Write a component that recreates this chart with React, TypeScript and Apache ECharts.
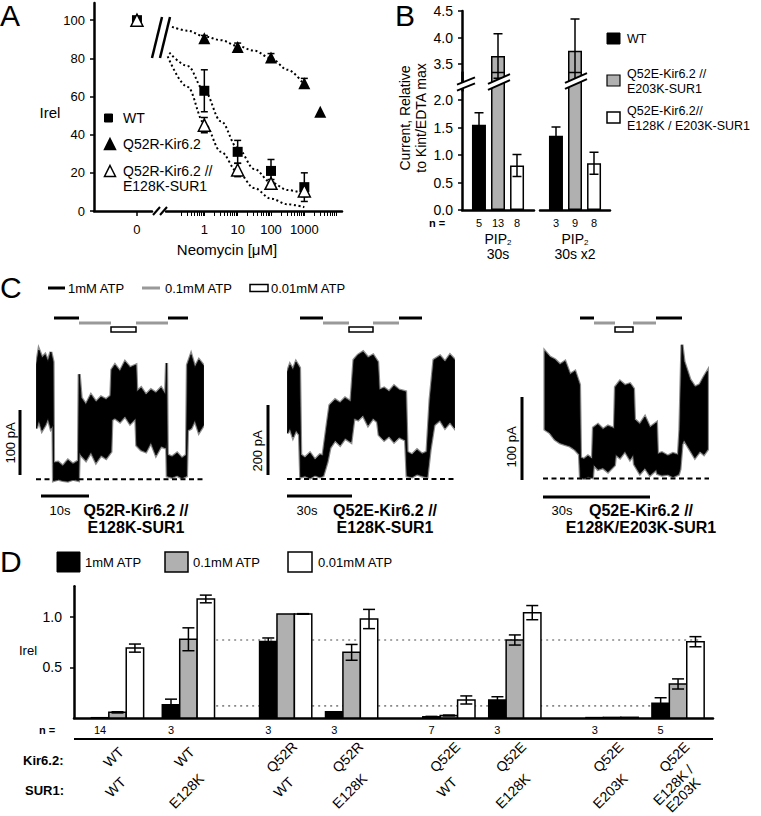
import React, { useEffect, useRef } from 'react';
import * as echarts from 'echarts';

const FONT = '"Liberation Sans", Arial, Helvetica, sans-serif';
const GREY = '#b0b0b0';

// ---------------- Panel A: neomycin inhibition ----------------
const neoConc = [0, 1, 10, 100, 1000];
const irelWT = [100, 63, 31, 21, 12.5];
const irelWTErr = [0, 11, 6, 6, 7.5];
const q52rConc = [0, 1, 10, 100, 1000, 3000];
const irelQ52R = [100, 90.5, 86, 80.5, 67, 52];
const irelQ52RErr = [0, 1.5, 2, 2, 2.5, 0];
const irelQ52RE128K = [100, 45, 21.5, 14.5, 10.5];
const irelQ52RE128KErr = [0, 4, 3.5, 2, 3];
// fitted curves: [log10(conc), Irel]
const fitQ52R = [[-0.97, 96.5], [-0.5, 94.5], [0, 91.5], [0.5, 89.5], [1, 86.5], [1.5, 84], [2, 80], [2.5, 74], [3, 66]];
const fitWT = [[-1.05, 83], [-0.5, 76], [0, 63], [0.5, 47], [1, 33], [1.5, 22], [2, 15], [2.5, 11], [3, 9]];
const fitQ52RE128K = [[-1.1, 81], [-0.5, 65], [0, 46], [0.5, 31], [1, 20.5], [1.5, 12], [2, 6.5], [2.5, 3.5], [3, 2]];
const aTickLabels = [0, 20, 40, 60, 80, 100];

// ---------------- Panel B: PIP2 activation ----------------
const pipGroups = ['PIP2 30s', 'PIP2 30s x2'];
const pipWT = [1.55, 1.35];
const pipWTErr = [0.22, 0.16];
const pipE203K = [3.65, 3.75];
const pipE203KErr = [0.42, 0.6];
const pipDouble = [0.81, 0.85];
const pipDoubleErr = [0.2, 0.2];
const pipN = [[5, 13, 8], [3, 9, 8]];

// ---------------- Panel C: current traces (envelopes, pA vs s) ----------------
const t1 = [0.1, 0.6, 1.25, 1.9, 2.5, 3.1, 3.55, 3.65, 4.6, 5.6, 6.65, 7.7, 8.85, 9.0, 9.4, 10.4, 11.45, 12.5, 13.55, 14.6, 15.6, 15.8, 16.45, 17.5, 18.55, 19.6, 20.8, 21.0, 21.9, 22.9, 23.95, 25.0, 26.05, 27.0, 27.2, 27.35, 28.35, 29.4, 30.4, 31.35, 31.55, 32.3, 33.1, 33.95, 34.9];
const hi1 = [175, 198, 186, 191, 180, 195, 180, 25, 26, 20, 29, 23, 28, 161, 125, 114, 129, 118, 126, 122, 128, 168, 175, 165, 180, 171, 175, 134, 140, 129, 137, 132, 140, 129, 178, 37, 34, 40, 32, 37, 175, 191, 171, 183, 174];
const lo1 = [78, 91, 75, 83, 94, 78, 83, -2, 0, -2, -3, 0, -2, 42, 37, 29, 42, 26, 37, 32, 42, 91, 94, 88, 97, 85, 94, 52, 45, 42, 57, 37, 51, 48, 60, 5, 3, 6, 2, 5, 75, 78, 91, 72, 83];
const t2 = [0.23, 1.38, 2.77, 4.15, 5.77, 6.32, 8.31, 10.6, 12.9, 15.2, 16.6, 18.5, 19.8, 22.2, 24.5, 26.8, 29.5, 30.9, 32.8, 35.1, 37.4, 39.7, 41.8, 42.5, 44.8, 47.1, 49.4, 51.7, 54.7, 55.4, 57.7, 60.0, 62.3, 64.6, 66.0, 67.8, 70.6, 72.9, 75.2, 77.3];
const hi2 = [306, 326, 311, 334, 317, 69, 60, 74, 54, 69, 66, 154, 211, 226, 217, 231, 220, 340, 354, 363, 346, 354, 334, 254, 260, 249, 266, 254, 249, 77, 69, 83, 71, 77, 226, 340, 351, 334, 354, 340];
const lo2 = [131, 146, 120, 140, 126, 6, 9, 3, 11, 6, 9, 49, 89, 111, 97, 117, 106, 174, 169, 183, 154, 174, 163, 126, 111, 123, 106, 120, 111, 9, 6, 14, 9, 6, 83, 154, 169, 146, 163, 146];
const t3 = [0.56, 1.97, 3.37, 4.78, 6.19, 7.59, 9.0, 10.26, 10.55, 11.53, 12.65, 13.92, 14.2, 15.47, 16.87, 18.28, 20.1, 20.39, 21.65, 23.06, 24.46, 25.45, 25.73, 27.28, 28.68, 30.09, 31.92, 32.2, 33.46, 35.15, 36.56, 38.1, 38.52, 39.09, 39.65, 41.34, 42.74, 44.15, 45.27, 46.26];
const hi3 = [153, 146, 143, 137, 141, 125, 129, 113, 25, 23, 27, 23, 61, 65, 59, 63, 60, 110, 117, 112, 114, 108, 71, 65, 74, 61, 67, 29, 31, 27, 30, 28, 59, 161, 141, 119, 110, 113, 122, 129];
const lo3 = [59, 55, 47, 43, 41, 39, 35, 29, 1, 0, 2, 1, 17, 11, 13, 8, 16, 29, 25, 33, 23, 29, 17, 6, 13, 4, 11, 6, 4, 5, 2, 5, 11, 41, 47, 35, 25, 33, 29, 35];

// ---------------- Panel D: ATP sensitivity ----------------
const dKir = ['WT', 'WT', 'Q52R', 'Q52R', 'Q52E', 'Q52E', 'Q52E', 'Q52E'];
const dSur = ['WT', 'E128K', 'WT', 'E128K', 'WT', 'E128K', 'E203K', 'E128K /\nE203K'];
const dN = [14, 3, 3, 3, 7, 3, 3, 5];
const d1mM = [0.003, 0.13, 0.755, 0.062, 0.012, 0.178, 0.004, 0.145];
const d1mMErr = [0, 0.056, 0.035, 0, 0.004, 0.032, 0, 0.055];
const d01mM = [0.056, 0.777, 1.027, 0.648, 0.025, 0.77, 0.006, 0.336];
const d01mMErr = [0.006, 0.113, 0, 0.078, 0.004, 0.05, 0, 0.05];
const d001mM = [0.69, 1.175, 1.027, 0.977, 0.178, 1.04, 0.007, 0.753];
const d001mMErr = [0.04, 0.038, 0.003, 0.095, 0.04, 0.07, 0, 0.05];
const dRefLevels = [0.77, 0.12];
// layout: group slots along the x axis
const dSlots = [0, 2.15, 5.1, 7.1, 10.05, 12.05, 15, 17];

// ---------------- helpers ----------------
function T(x: number, y: number, text: string, o: any = {}) {
  const style: any = {
    text, fill: '#000', fontSize: o.size || 13, fontFamily: FONT,
    fontWeight: o.bold ? 'bold' : 'normal',
    align: o.align || 'left', verticalAlign: o.va || 'middle',
    textAlign: o.align || 'left', textVerticalAlign: o.va || 'middle',
  };
  if (o.lh) style.lineHeight = o.lh;
  if (o.rich) style.rich = o.rich;
  return { type: 'text', x, y, z: 120, rotation: o.rot || 0, originX: 0, originY: 0, style };
}
function L(x1: number, y1: number, x2: number, y2: number, w = 2.5, c = '#000') {
  return { type: 'line', z: 110, shape: { x1, y1, x2, y2 }, style: { stroke: c, lineWidth: w } };
}
function R(x: number, y: number, w: number, h: number, fill: string, stroke = '#000', lw = 1.5) {
  return { type: 'rect', z: 110, shape: { x, y, width: w, height: h }, style: { fill, stroke, lineWidth: lw } };
}
function tri(cx: number, cy: number, s: number, fill: string) {
  return {
    type: 'polygon', z: 110,
    shape: { points: [[cx, cy - s / 2], [cx + s / 2, cy + s / 2], [cx - s / 2, cy + s / 2]] },
    style: { fill, stroke: '#000', lineWidth: 1.5 },
  };
}
function breakMark(xc: number, yc: number, half: number, slope: number, gap: number) {
  const yAt = (x: number, off: number) => yc + off - slope * (x - xc);
  const xa = xc - half, xb = xc + half;
  return [
    { type: 'polygon', z: 105, shape: { points: [[xa, yAt(xa, gap / 2)], [xb, yAt(xb, gap / 2)], [xb, yAt(xb, -gap / 2)], [xa, yAt(xa, -gap / 2)]] }, style: { fill: '#fff' } },
    { type: 'line', z: 106, shape: { x1: xa, y1: yAt(xa, gap / 2), x2: xb, y2: yAt(xb, gap / 2) }, style: { stroke: '#000', lineWidth: 2 } },
    { type: 'line', z: 106, shape: { x1: xa, y1: yAt(xa, -gap / 2), x2: xb, y2: yAt(xb, -gap / 2) }, style: { stroke: '#000', lineWidth: 2 } },
  ];
}
function errItem(api: any, x: number, lo: number, hi: number, dx: number, cap: number) {
  const a = api.coord([x, lo]);
  const b = api.coord([x, hi]);
  const cx = a[0] + dx;
  const st = { stroke: '#000', lineWidth: 1.5 };
  return [
    { type: 'line', shape: { x1: cx, y1: a[1], x2: cx, y2: b[1] }, style: st },
    { type: 'line', shape: { x1: cx - cap, y1: a[1], x2: cx + cap, y2: a[1] }, style: st },
    { type: 'line', shape: { x1: cx - cap, y1: b[1], x2: cx + cap, y2: b[1] }, style: st },
  ];
}

const AX = { color: '#000', width: 2.5 };
const LBL = (size: number, margin: number) => ({ color: '#000', fontSize: size, fontFamily: FONT, margin });

function buildOption() {
  const logTicks: number[] = [];
  for (let n = -1; n <= 3; n++) for (let k = 1; k <= 9; k++) if (!(n === -1 && k === 1)) logTicks.push(Math.log10(k * Math.pow(10, n)));

  const grid = [
    { left: 94, top: 3, width: 58, height: 208 },
    { left: 166, top: 3, width: 176, height: 208 },
    { left: 462, top: 11, width: 72, height: 79.5 },
    { left: 540, top: 11, width: 70, height: 79.5 },
    { left: 462, top: 72.5, width: 72, height: 137.5 },
    { left: 540, top: 72.5, width: 70, height: 137.5 },
    { left: 36, top: 339, width: 168, height: 150 },
    { left: 287, top: 339, width: 168, height: 150.5 },
    { left: 543, top: 339, width: 166, height: 149.4 },
    { left: 74, top: 586.3, width: 639, height: 131.7 },
  ].map((g) => ({ ...g, outerBoundsMode: 'none', containLabel: false }));

  const hidden = { show: false };
  const xLine = { show: true, onZero: false, lineStyle: AX };
  const yLine = { show: true, onZero: false, lineStyle: AX };
  const xAxis: any[] = [
    { gridIndex: 0, type: 'value', min: -1, max: 0.35, splitLine: hidden, axisLine: xLine,
      axisTick: { show: true, customValues: [0], length: 5, lineStyle: { color: '#000', width: 1.5 } },
      axisLabel: { ...LBL(13, 12), customValues: [0], formatter: (v: number) => (Math.abs(v) < 1e-9 ? '0' : '') } },
    { gridIndex: 1, type: 'value', min: -1.15, max: 4.13, splitLine: hidden, axisLine: xLine,
      axisTick: { show: true, customValues: logTicks, length: 5, lineStyle: { color: '#000', width: 1 } },
      axisLabel: { ...LBL(13, 12), customValues: [0, 1, 2, 3],
        formatter: (v: number) => (Math.abs(v - Math.round(v)) < 1e-6 && v >= 0 && v <= 3 ? String(Math.round(Math.pow(10, v))) : '') } },
    { gridIndex: 2, type: 'category', data: [pipGroups[0]], show: false },
    { gridIndex: 3, type: 'category', data: [pipGroups[1]], show: false },
    { gridIndex: 4, type: 'category', data: [pipGroups[0]], axisLine: xLine, axisTick: hidden, axisLabel: hidden },
    { gridIndex: 5, type: 'category', data: [pipGroups[1]], axisLine: xLine, axisTick: hidden, axisLabel: hidden },
    { gridIndex: 6, type: 'value', min: 0, max: 35, show: false },
    { gridIndex: 7, type: 'value', min: 0, max: 77.5, show: false },
    { gridIndex: 8, type: 'value', min: 0, max: 46.7, show: false },
    { gridIndex: 9, type: 'value', min: -1.32, max: 18.06, splitLine: hidden, axisLine: xLine, axisTick: hidden, axisLabel: hidden },
  ];
  const yAxis: any[] = [
    { gridIndex: 0, type: 'value', min: 0, max: 109, splitLine: hidden, axisLine: yLine,
      axisTick: { show: true, customValues: aTickLabels, length: 4, lineStyle: { color: '#000', width: 1.5 } },
      axisLabel: { ...LBL(13, 9), customValues: aTickLabels } },
    { gridIndex: 1, type: 'value', min: 0, max: 109, show: false },
    { gridIndex: 2, type: 'value', min: 3, max: 4.5, splitLine: hidden, axisLine: yLine,
      axisTick: { show: true, customValues: [3.5, 4, 4.5], length: 4, lineStyle: { color: '#000', width: 1.5 } },
      axisLabel: { ...LBL(14, 9), customValues: [3.5, 4, 4.5], formatter: (v: number) => v.toFixed(1) } },
    { gridIndex: 3, type: 'value', min: 3, max: 4.5, show: false },
    { gridIndex: 4, type: 'value', min: 0, max: 2.5, splitLine: hidden, axisLine: yLine,
      axisTick: { show: true, customValues: [0, 0.5, 1, 1.5, 2], length: 4, lineStyle: { color: '#000', width: 1.5 } },
      axisLabel: { ...LBL(14, 9), customValues: [0, 0.5, 1, 1.5, 2], formatter: (v: number) => v.toFixed(1) } },
    { gridIndex: 5, type: 'value', min: 0, max: 2.5, show: false },
    { gridIndex: 6, type: 'value', min: -15, max: 215, show: false },
    { gridIndex: 7, type: 'value', min: -30, max: 400, show: false },
    { gridIndex: 8, type: 'value', min: -12, max: 168, show: false },
    { gridIndex: 9, type: 'value', min: 0, max: 1.3, splitLine: hidden, axisLine: yLine,
      axisTick: { show: true, customValues: [0.5, 1], length: 4, lineStyle: { color: '#000', width: 1.5 } },
      axisLabel: { ...LBL(14, 12), customValues: [0.5, 1], formatter: (v: number) => v.toFixed(1) } },
  ];

  const series: any[] = [];

  // ---- Panel A ----
  const dotted = { color: '#000', width: 2, type: [2, 2.6] };
  [fitQ52R, fitWT, fitQ52RE128K].forEach((f) =>
    series.push({ type: 'line', xAxisIndex: 1, yAxisIndex: 1, data: f, smooth: 0.35, smoothMonotone: 'x', symbol: 'none', lineStyle: dotted, z: 2, silent: true }));
  const aErr = (conc: number[], m: number[], e: number[]) =>
    conc.map((c, i) => [c, m[i], e[i]]).filter((r) => r[0] > 0 && r[2] > 0).map((r) => [Math.log10(r[0]), r[1] - r[2], r[1] + r[2]]);
  [aErr(neoConc, irelWT, irelWTErr), aErr(q52rConc, irelQ52R, irelQ52RErr), aErr(neoConc, irelQ52RE128K, irelQ52RE128KErr)].forEach((d) =>
    series.push({ type: 'custom', xAxisIndex: 1, yAxisIndex: 1, z: 3, data: d, encode: { x: 0, y: [1, 2] },
      renderItem: (p: any, api: any) => ({ type: 'group', children: errItem(api, api.value(0), api.value(1), api.value(2), 0, 3.5) }) }));
  const aSets = [
    { conc: neoConc, m: irelWT, sym: 'rect', size: 10, style: { color: '#000', opacity: 1 } },
    { conc: q52rConc, m: irelQ52R, sym: 'triangle', size: 12, style: { color: '#000', opacity: 1 } },
    { conc: neoConc, m: irelQ52RE128K, sym: 'triangle', size: 12, style: { color: '#fff', borderColor: '#000', borderWidth: 1.5, opacity: 1 } },
  ];
  aSets.forEach((s) => {
    series.push({ type: 'scatter', xAxisIndex: 0, yAxisIndex: 0, z: 4, symbol: s.sym, symbolSize: s.size, itemStyle: s.style,
      data: s.conc.map((c, i) => [c, s.m[i]]).filter((r) => r[0] === 0) });
    series.push({ type: 'scatter', xAxisIndex: 1, yAxisIndex: 1, z: 4, symbol: s.sym, symbolSize: s.size, itemStyle: s.style,
      data: s.conc.map((c, i) => [c, s.m[i]]).filter((r) => r[0] > 0).map((r) => [Math.log10(r[0]), r[1]]) });
  });

  // ---- Panel B ----
  const bSets = [
    { v: pipWT, e: pipWTErr, color: '#000' },
    { v: pipE203K, e: pipE203KErr, color: GREY },
    { v: pipDouble, e: pipDoubleErr, color: '#fff' },
  ];
  [0, 1].forEach((g) => {
    [{ ax: 2 + g, lo: 3, hi: 4.5 }, { ax: 4 + g, lo: 0, hi: 2.5 }].forEach((pane) => {
      bSets.forEach((s) =>
        series.push({ type: 'bar', xAxisIndex: pane.ax, yAxisIndex: pane.ax, barWidth: 14, barGap: '36%', clip: true, z: 2,
          data: [s.v[g] > pane.lo ? s.v[g] : '-'],
          itemStyle: { color: s.color, borderColor: '#000', borderWidth: 1.5 } }));
      const errData = bSets.map((s, k) => [0, s.v[g] - s.e[g], s.v[g] + s.e[g], k])
        .filter((r) => (pane.lo > 0 ? r[2] > pane.lo : r[1] < pane.hi));
      series.push({ type: 'custom', xAxisIndex: pane.ax, yAxisIndex: pane.ax, clip: true, z: 3, data: errData,
        renderItem: (p: any, api: any) => ({ type: 'group', children: errItem(api, 0, api.value(1), api.value(2), (api.value(3) - 1) * 19, 4.5) }) });
    });
  });

  // ---- Panel C ----
  const traces = [
    { t: t1, lo: lo1, hi: hi1, ax: 6, tMax: 35 },
    { t: t2, lo: lo2, hi: hi2, ax: 7, tMax: 77.5 },
    { t: t3, lo: lo3, hi: hi3, ax: 8, tMax: 46.7 },
  ];
  traces.forEach((tr) => {
    const pts = tr.t.map((t, j) => [t, tr.lo[j], tr.hi[j]]);
    series.push({ type: 'custom', xAxisIndex: tr.ax, yAxisIndex: tr.ax, clip: true, silent: true, z: 2, data: pts,
      encode: { x: 0, y: [1, 2] },
      renderItem: (p: any, api: any) => {
        if (p.dataIndex !== 0) return null;
        const upper = pts.map((d) => api.coord([d[0], d[2]]));
        const lower = pts.map((d) => api.coord([d[0], d[1]])).reverse();
        const poly = upper.concat(lower);
        return { type: 'group', children: [
          { type: 'polygon', shape: { points: poly }, style: { fill: '#000', stroke: '#8c8c8c', lineWidth: 3.2, lineJoin: 'miter' } },
          { type: 'polygon', shape: { points: poly }, style: { fill: '#000', stroke: '#000', lineWidth: 0.8, lineJoin: 'miter' } },
        ] };
      } });
    series.push({ type: 'line', xAxisIndex: tr.ax, yAxisIndex: tr.ax, symbol: 'none', silent: true, z: 3,
      data: [[0, 0], [tr.tMax, 0]], lineStyle: { color: '#000', width: 2, type: [5, 3.5] } });
  });

  // ---- Panel D ----
  dRefLevels.forEach((lv) =>
    series.push({ type: 'line', xAxisIndex: 9, yAxisIndex: 9, symbol: 'none', silent: true, z: 1,
      data: [[1.9, lv], [17.73, lv]], lineStyle: { color: '#888', width: 1.6, type: [2, 4] } }));
  const dSets = [
    { v: d1mM, e: d1mMErr, color: '#000' },
    { v: d01mM, e: d01mMErr, color: GREY },
    { v: d001mM, e: d001mMErr, color: '#fff' },
  ];
  dSets.forEach((s, k) =>
    series.push({ type: 'custom', xAxisIndex: 9, yAxisIndex: 9, z: 3, encode: { x: 0, y: 1 },
      data: s.v.map((v, i) => [dSlots[i], v, s.e[i]]),
      renderItem: (p: any, api: any) => {
        const slot = api.value(0), v = api.value(1), e = api.value(2);
        const bw = api.size([1, 0])[0] * 0.528;
        const p0 = api.coord([slot, 0]);
        const p1 = api.coord([slot, v]);
        const cx = p0[0] + (k - 1) * bw;
        const children: any[] = [{ type: 'rect', shape: { x: cx - bw / 2, y: p1[1], width: bw, height: Math.max(p0[1] - p1[1], 0.3) },
          style: { fill: s.color, stroke: '#000', lineWidth: 1.5 } }];
        if (e > 0) children.push(...errItem(api, slot, v - e, v + e, (k - 1) * bw, 6));
        return { type: 'group', children };
      } }));

  // ---------------- graphic annotations ----------------
  const g: any[] = [];
  // A
  g.push(T(0, 15, 'A', { size: 30 }));
  g.push(T(50, 112, 'Irel', { size: 15, align: 'center' }));
  g.push(T(227, 249, 'Neomycin [\u03bcM]', { size: 15, align: 'center' }));
  g.push(R(104.5, 114, 8, 8, '#000', '#000', 1));
  g.push(T(123, 118, 'WT', { size: 14 }));
  g.push(tri(110, 144, 11, '#000'));
  g.push(T(123, 144, 'Q52R-Kir6.2', { size: 14 }));
  g.push(tri(110, 171, 11, '#fff'));
  g.push(T(123, 171, 'Q52R-Kir6.2 //', { size: 14 }));
  g.push(T(123, 186, 'E128K-SUR1', { size: 14 }));
  g.push(L(152, 58, 162, 17, 2.5), L(160, 58, 170, 17, 2.5));
  g.push(L(153, 215, 160, 207, 2), L(160, 215, 167, 207, 2));

  // B
  g.push(T(395, 15, 'B', { size: 30 }));
  g.push(T(413, 118, 'Current, Relative\nto Kint/EDTA max', { size: 14, align: 'center', rot: Math.PI / 2, lh: 16 }));
  g.push(R(607, 33, 13, 11, '#000', '#000', 1));
  g.push(T(627, 39, 'WT', { size: 12.5 }));
  g.push(R(607, 75, 13, 11, GREY, '#000', 1.2));
  g.push(T(627, 74, 'Q52E-Kir6.2 //', { size: 12.5 }), T(627, 89, 'E203K-SUR1', { size: 12.5 }));
  g.push(R(607, 112, 13, 11, '#fff', '#000', 1.5));
  g.push(T(627, 111, 'Q52E-Kir6.2//', { size: 12.5 }), T(627, 126, 'E128K / E203K-SUR1', { size: 12.5 }));
  g.push(T(437, 223, 'n =', { size: 11, bold: true, align: 'center' }));
  const bCenters = [498, 575];
  pipN.forEach((ns, gi) => ns.forEach((n, k) => g.push(T(bCenters[gi] + (k - 1) * 19, 223, String(n), { size: 11, align: 'center' }))));
  const pipRich = { a: { fontSize: 14, fontFamily: FONT }, b: { fontSize: 8, fontFamily: FONT, verticalAlign: 'bottom', padding: [6, 0, 0, 0] } };
  g.push(T(bCenters[0], 239, '{a|PIP}{b|2}', { align: 'center', rich: pipRich }));
  g.push(T(bCenters[1], 239, '{a|PIP}{b|2}', { align: 'center', rich: pipRich }));
  g.push(T(bCenters[0], 254, '30s', { size: 14, align: 'center' }));
  g.push(T(bCenters[1], 254, '30s x2', { size: 14, align: 'center' }));
  g.push(...breakMark(466, 84, 9, 0.4, 6));
  g.push(...breakMark(499, 82, 11, 0.45, 6));
  g.push(...breakMark(576, 81, 11, 0.45, 6));

  // C
  g.push(T(0, 287, 'C', { size: 30 }));
  g.push(L(48, 288, 65, 288, 3), T(68, 288, '1mM ATP', { size: 13 }));
  g.push(L(142, 288, 160, 288, 3, '#999'), T(165, 288, '0.1mM ATP', { size: 13 }));
  g.push(R(250, 284.5, 18, 7, '#fff', '#000', 1.5), T(271, 288, '0.01mM ATP', { size: 13 }));
  const protocols = [
    [54, 79, 111, 136, 168, 188],
    [300, 323, 349, 373, 399, 422],
    [580, 594, 615, 633, 656, 682],
  ];
  protocols.forEach((p) => {
    g.push(L(p[0], 318, p[1], 318, 3), L(p[1], 323, p[2], 323, 3, '#999'));
    g.push(R(p[2], 327, p[3] - p[2], 5, '#fff', '#000', 1.5));
    g.push(L(p[3], 323, p[4], 323, 3, '#999'), L(p[4], 318, p[5], 318, 3));
  });
  g.push(L(20, 410, 20, 475, 3), L(41, 496, 89, 496, 3));
  g.push(L(268, 405, 268, 475, 3), L(287, 496, 352, 496, 3));
  g.push(L(522, 397, 522, 480, 3), L(543, 497, 650, 497, 3));
  g.push(T(10, 443, '100 pA', { size: 13, align: 'center', rot: Math.PI / 2 }));
  g.push(T(257, 451, '200 pA', { size: 13, align: 'center', rot: Math.PI / 2 }));
  g.push(T(511, 447, '100 pA', { size: 13, align: 'center', rot: Math.PI / 2 }));
  g.push(T(60, 510, '10s', { size: 13, align: 'center' }), T(307, 510, '30s', { size: 13, align: 'center' }), T(562, 510, '30s', { size: 13, align: 'center' }));
  g.push(T(136, 510, 'Q52R-Kir6.2 //', { size: 16, bold: true, align: 'center' }), T(136, 527, 'E128K-SUR1', { size: 16, bold: true, align: 'center' }));
  g.push(T(385, 510, 'Q52E-Kir6.2 //', { size: 16, bold: true, align: 'center' }), T(385, 527, 'E128K-SUR1', { size: 16, bold: true, align: 'center' }));
  g.push(T(641, 510, 'Q52E-Kir6.2 //', { size: 16, bold: true, align: 'center' }), T(641, 527, 'E128K/E203K-SUR1', { size: 16, bold: true, align: 'center' }));

  // D
  g.push(T(0, 561, 'D', { size: 30 }));
  g.push(R(57, 552, 23, 20, '#000', '#000', 1), T(85, 562, '1mM ATP', { size: 13 }));
  g.push(R(165, 552, 23, 20, GREY, '#000', 1.5), T(193, 562, '0.1mM ATP', { size: 13 }));
  g.push(R(288, 552, 24, 20, '#fff', '#000', 1.5), T(318, 562, '0.01mM ATP', { size: 13 }));
  g.push(T(28, 650, 'Irel', { size: 13, align: 'center' }));
  g.push(T(47, 730, 'n =', { size: 11, bold: true, align: 'center' }));
  const slotPx = (s: number) => 74 + (s + 1.32) * (639 / (18.06 + 1.32));
  const bwPx = (639 / (18.06 + 1.32)) * 0.528;
  dN.forEach((n, i) => g.push(T(slotPx(dSlots[i]) - bwPx, 730, String(n), { size: 11, align: 'center' })));
  g.push(L(74, 739, 713, 739, 2));
  g.push(T(23, 760, 'Kir6.2:', { size: 13, bold: true }), T(25, 790, 'SUR1:', { size: 13, bold: true }));
  const tilt = Math.PI / 4;
  dKir.forEach((s, i) => g.push(T(slotPx(dSlots[i]) - 4, 757, s, { size: 14, align: 'center', rot: tilt })));
  dSur.forEach((s, i) => g.push(T(slotPx(dSlots[i]) + (i === 7 ? 0 : -2), i === 7 ? 790 : (s === 'WT' ? 787 : 791), s, { size: 14, align: 'center', rot: tilt, lh: 14 })));

  return {
    animation: false,
    backgroundColor: '#fff',
    textStyle: { fontFamily: FONT },
    grid, xAxis, yAxis, series, graphic: g,
  };
}

export default function App() {
  const ref = useRef<HTMLDivElement>(null);
  useEffect(() => {
    document.body.style.margin = '0';
    const chart = echarts.init(ref.current as HTMLDivElement, null, { renderer: 'svg' });
    chart.setOption(buildOption() as any);
    return () => chart.dispose();
  }, []);
  return <div ref={ref} style={{ width: 761, height: 816 }} />;
}
